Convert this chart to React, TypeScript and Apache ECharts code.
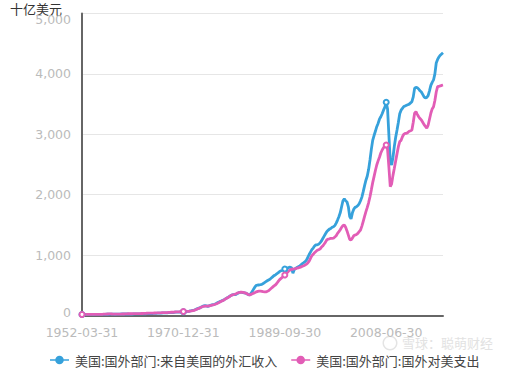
import React, { useEffect, useRef } from "react";
import * as echarts from "echarts";

const startYear = 1952;
const endYear = 2018;
const quarterEnds = ["03-31", "06-30", "09-30", "12-31"];
const years: number[] = [];
for (let y = startYear; y <= endYear; y++) years.push(y);
const categories: string[] = years.flatMap((y) => quarterEnds.map((q) => `${y}-${q}`));

const seriesNames = ["美国:国外部门:来自美国的外汇收入", "美国:国外部门:国外对美支出"];
const yTicks = [0, 1000, 2000, 3000, 4000, 5000];

// 十亿美元, quarterly 1952Q1 - 2018Q4
const receiptsFromUS = [
  16, 16, 17, 17, // 1952
  17, 17, 17, 17,
  16, 16, 17, 17,
  18, 18, 19, 19,
  20, 20, 21, 21, // 1956
  21, 22, 22, 22,
  21, 21, 22, 22,
  24, 25, 25, 25,
  25, 25, 25, 24, // 1960
  24, 24, 25, 26,
  27, 27, 27, 28,
  28, 28, 29, 29,
  30, 31, 31, 32, // 1964
  33, 35, 35, 36,
  38, 39, 40, 41,
  42, 42, 42, 44,
  47, 48, 50, 50, // 1968
  50, 55, 56, 56,
  57, 58, 60, 62,
  64, 66, 68, 70,
  75, 80, 86, 91, // 1972
  100, 110, 118, 125,
  138, 150, 160, 163,
  158, 152, 160, 168,
  175, 180, 185, 195, // 1976
  210, 220, 230, 240,
  250, 262, 275, 288,
  300, 315, 330, 340,
  345, 345, 350, 365, // 1980
  378, 384, 384, 380,
  376, 370, 360, 345,
  340, 365, 400, 440,
  477, 500, 505, 505, // 1984
  510, 516, 530, 545,
  560, 575, 588, 600,
  620, 640, 660, 670,
  690, 705, 725, 740, // 1988
  745, 753, 770, 780,
  785, 795, 800, 790,
  700, 760, 780, 795,
  808, 820, 840, 860, // 1992
  875, 891, 918, 960,
  1010, 1050, 1090, 1117,
  1150, 1170, 1170, 1180,
  1200, 1230, 1270, 1310, // 1996
  1350, 1388, 1410, 1430,
  1440, 1460, 1470, 1490,
  1530, 1580, 1636, 1700,
  1800, 1900, 1930, 1900, // 2000
  1880, 1800, 1640, 1600,
  1700, 1760, 1790, 1800,
  1820, 1850, 1900, 1960,
  2050, 2150, 2240, 2310, // 2004
  2420, 2575, 2750, 2900,
  2980, 3050, 3126, 3180,
  3250, 3291, 3340, 3400,
  3450, 3530, 3420, 2980, // 2008
  2550, 2490, 2620, 2800,
  2950, 3070, 3200, 3340,
  3400, 3430, 3460, 3470,
  3480, 3490, 3500, 3520, // 2012
  3540, 3620, 3760, 3780,
  3770, 3750, 3720, 3700,
  3660, 3620, 3600, 3610,
  3640, 3720, 3810, 3860, // 2016
  3900, 4000, 4180, 4240,
  4280, 4310, 4330, 4350,
];

const outlaysToUS = [
  18, 18, 18, 18, // 1952
  17, 17, 17, 17,
  18, 18, 18, 18,
  19, 19, 20, 20,
  22, 23, 24, 25, // 1956
  26, 26, 25, 24,
  23, 23, 23, 23,
  24, 24, 25, 25,
  27, 28, 29, 29, // 1960
  29, 29, 30, 31,
  31, 32, 32, 32,
  33, 33, 34, 35,
  37, 38, 39, 39, // 1964
  39, 41, 41, 42,
  43, 44, 45, 46,
  47, 47, 48, 49,
  51, 52, 54, 54, // 1968
  54, 58, 60, 61,
  62, 64, 64, 65,
  66, 66, 67, 68,
  72, 75, 80, 85, // 1972
  95, 105, 115, 122,
  135, 145, 150, 155,
  155, 155, 160, 165,
  170, 176, 182, 190, // 1976
  200, 210, 222, 235,
  245, 258, 272, 285,
  298, 312, 328, 340,
  345, 352, 360, 372, // 1980
  380, 385, 386, 384,
  378, 372, 360, 345,
  340, 350, 360, 370,
  380, 392, 400, 405, // 1984
  405, 400, 395, 392,
  392, 400, 410, 430,
  450, 470, 490, 505,
  530, 560, 590, 610, // 1988
  630, 650, 670, 690,
  715, 740, 753, 766,
  766, 770, 775, 785,
  790, 795, 805, 815, // 1992
  825, 836, 850, 870,
  900, 947, 990, 1013,
  1040, 1060, 1080, 1090,
  1100, 1129, 1150, 1180, // 1996
  1210, 1250, 1265, 1270,
  1278, 1278, 1280, 1300,
  1320, 1360, 1388, 1420,
  1460, 1490, 1498, 1460, // 2000
  1400, 1330, 1260, 1250,
  1280, 1320, 1333, 1340,
  1360, 1390, 1416, 1480,
  1560, 1640, 1719, 1790, // 2004
  1870, 1967, 2080, 2200,
  2300, 2400, 2492, 2560,
  2620, 2690, 2740, 2780,
  2800, 2823, 2750, 2450, // 2008
  2132, 2180, 2320, 2437,
  2560, 2680, 2795, 2880,
  2900, 2960, 3000, 3016,
  3016, 3030, 3050, 3060, // 2012
  3071, 3200, 3350, 3374,
  3330, 3290, 3260, 3237,
  3200, 3160, 3130, 3100,
  3150, 3250, 3348, 3420, // 2016
  3457, 3560, 3700, 3788,
  3795, 3800, 3810, 3816,
];

const colors = ["#36a1db", "#e25db6"];
const legendIcon =
  "path://M0,4.1H20V5.9H0Z M14.5,5A4.5,4.5 0 1 1 5.5,5A4.5,4.5 0 1 1 14.5,5Z";

export default function App() {
  const ref = useRef<HTMLDivElement>(null);
  useEffect(() => {
    if (!ref.current) return;
    const chart = echarts.init(ref.current, null, { renderer: "svg" });
    const cjk = "'Noto Sans CJK SC', 'Noto Sans', sans-serif";
    const num = "'DejaVu Sans', sans-serif";
    const labelStyle = { color: "#bbb", fontSize: 12.5, fontFamily: num, lineHeight: 12 };
    chart.setOption({
      animation: false,
      color: colors,
      textStyle: { fontFamily: cjk },
      grid: { left: 82, right: 79, top: 13.5, bottom: 53.5, containLabel: false },
      graphic: [
        {
          type: "text",
          left: 10,
          top: 2,
          style: { text: "十亿美元", fill: "#333", font: `13px ${cjk}`, lineHeight: 12 },
        },
        {
          type: "ring",
          shape: { cx: 390, cy: 343, r: 7.5, r0: 6 },
          style: { fill: "#e4e4e4" },
          silent: true,
        },
        {
          type: "text",
          left: 402,
          top: 336,
          style: {
            text: "雪球：聪萌财经",
            fill: "#e2e2e2",
            font: `13px ${cjk}`,
            lineHeight: 13,
          },
          silent: true,
        },
      ],
      legend: {
        data: seriesNames.map((n) => ({ name: n, icon: legendIcon })),
        top: 353,
        left: 50,
        padding: 0,
        itemWidth: 19,
        itemHeight: 9,
        itemGap: 14,
        textStyle: {
          color: "#444",
          fontSize: 13,
          lineHeight: 14,
          fontFamily: cjk,
          padding: [0, 0, 0, 1],
        },
      },
      xAxis: {
        type: "category",
        data: categories,
        boundaryGap: false,
        axisLine: { lineStyle: { color: "#666", width: 2 } },
        axisTick: { show: false },
        axisLabel: { interval: 74, margin: 11, ...labelStyle },
        splitLine: { show: false },
      },
      yAxis: {
        type: "value",
        min: yTicks[0],
        max: yTicks[yTicks.length - 1],
        interval: 1000,
        axisLine: { show: true, lineStyle: { color: "#666", width: 2 } },
        axisTick: { show: false },
        axisLabel: {
          margin: 11,
          ...labelStyle,
          formatter: (v: number) => {
            const s = v.toLocaleString("en-US");
            if (v === yTicks[yTicks.length - 1]) return `{top|${s}}`;
            if (v === yTicks[0]) return `{bot|${s}}`;
            return s;
          },
          rich: {
            top: { ...labelStyle, padding: [12, 0, 0, 0] },
            bot: { ...labelStyle, padding: [0, 0, 6, 0] },
          },
        },
        splitLine: { lineStyle: { color: "#e6e6e6", width: 1 } },
      },
      series: [
        {
          name: seriesNames[0],
          type: "line",
          data: receiptsFromUS,
          symbol: "emptyCircle",
          symbolSize: 5,
          showAllSymbol: "auto",
          lineStyle: { width: 2.8 },
        },
        {
          name: seriesNames[1],
          type: "line",
          data: outlaysToUS,
          symbol: "emptyCircle",
          symbolSize: 5,
          showAllSymbol: "auto",
          lineStyle: { width: 2.8 },
        },
      ],
    });
    return () => chart.dispose();
  }, []);
  return (
    <div
      ref={ref}
      style={{ position: "absolute", left: 0, top: 0, width: 522, height: 369 }}
    />
  );
}
